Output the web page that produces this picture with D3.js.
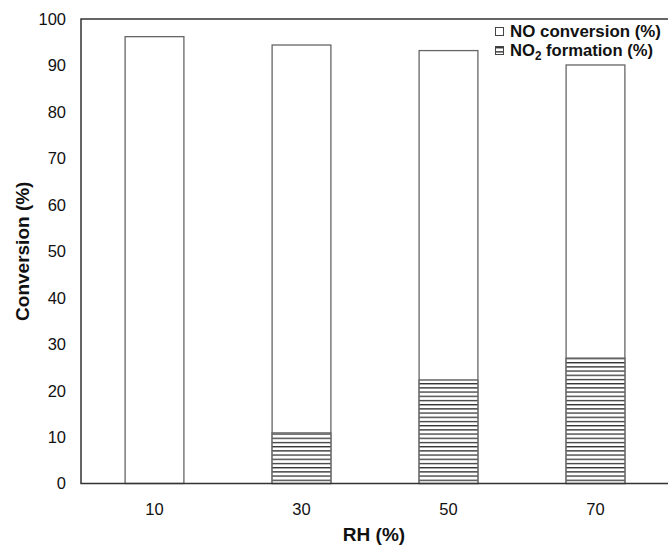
<!DOCTYPE html>
<html>
<head>
    <script src="https://cdn.jsdelivr.net/npm/d3@7"></script>
    <style>
        body { margin: 0; background: #fff; }
        text { font-family: "Liberation Sans", Arial, sans-serif; fill: #111; }
    </style>
</head>
<body>
<script>
    // values
    const rh = ["10", "30", "50", "70"];
    const noConversion = [96.2, 94.4, 93.2, 90.1];
    const no2Formation = [0, 10.9, 22.3, 27.0];
    const yTicks = [0, 10, 20, 30, 40, 50, 60, 70, 80, 90, 100];

    const width = 668, height = 547;
    const plotLeft = 81, plotTop = 19, plotBottom = 483.5;

    const svg = d3.select('body').append('svg')
        .attr('width', width)
        .attr('height', height);

    // horizontal line hatch for NO2
    svg.append('defs').append('pattern')
        .attr('id', 'hatch')
        .attr('patternUnits', 'userSpaceOnUse')
        .attr('width', 8).attr('height', 4.2)
        .call(p => {
            p.append('rect').attr('width', 8).attr('height', 4.2).attr('fill', '#fff');
            p.append('line').attr('x1', 0).attr('x2', 8).attr('y1', 1.5).attr('y2', 1.5)
                .attr('stroke', '#333').attr('stroke-width', 1.3);
        });

    const x = d3.scaleBand()
        .domain(rh)
        .range([plotLeft, plotLeft + 588])
        .paddingInner(0.6)
        .paddingOuter(0.3);

    const y = d3.scaleLinear()
        .domain([0, 100])
        .range([plotBottom, plotTop]);

    // NO conversion bars
    svg.selectAll('.no')
        .data(rh)
        .join('rect')
        .attr('class', 'no')
        .attr('x', d => x(d))
        .attr('width', x.bandwidth())
        .attr('y', (d, i) => y(noConversion[i]))
        .attr('height', (d, i) => y(0) - y(noConversion[i]))
        .attr('fill', '#fff')
        .attr('stroke', '#666')
        .attr('stroke-width', 1.3);

    // NO2 formation bars
    svg.selectAll('.no2')
        .data(rh.filter((d, i) => no2Formation[i] > 0))
        .join('rect')
        .attr('class', 'no2')
        .attr('x', d => x(d))
        .attr('width', x.bandwidth())
        .attr('y', d => y(no2Formation[rh.indexOf(d)]))
        .attr('height', d => y(0) - y(no2Formation[rh.indexOf(d)]))
        .attr('fill', 'url(#hatch)')
        .attr('stroke', '#666')
        .attr('stroke-width', 1.3);

    // frame (right side runs off the picture)
    svg.append('path')
        .attr('d', `M${width + 5},${plotTop}H${plotLeft}V${plotBottom}H${width + 5}`)
        .attr('fill', 'none')
        .attr('stroke', '#333')
        .attr('stroke-width', 1.5);

    // y tick labels
    svg.selectAll('.ytick')
        .data(yTicks)
        .join('text')
        .attr('class', 'ytick')
        .attr('x', 66)
        .attr('y', d => y(d))
        .attr('dy', '0.36em')
        .attr('text-anchor', 'end')
        .attr('font-size', 16.5)
        .text(d => d);

    // x tick labels
    svg.selectAll('.xtick')
        .data(rh)
        .join('text')
        .attr('class', 'xtick')
        .attr('x', d => x(d) + x.bandwidth() / 2)
        .attr('y', 515)
        .attr('text-anchor', 'middle')
        .attr('font-size', 16.5)
        .text(d => d);

    svg.append('text')
        .attr('x', 374)
        .attr('y', 541)
        .attr('text-anchor', 'middle')
        .attr('font-size', 19)
        .attr('font-weight', 'bold')
        .text('RH (%)');

    svg.append('text')
        .attr('transform', `translate(29,${(plotTop + plotBottom) / 2}) rotate(-90)`)
        .attr('text-anchor', 'middle')
        .attr('font-size', 19)
        .attr('font-weight', 'bold')
        .text('Conversion (%)');

    // legend
    const lg = svg.append('g');
    lg.append('rect')
        .attr('x', 495.5).attr('y', 27.5).attr('width', 8).attr('height', 8)
        .attr('fill', '#fff').attr('stroke', '#444');
    lg.append('text')
        .attr('x', 510).attr('y', 37)
        .attr('font-size', 17).attr('font-weight', 'bold')
        .attr('textLength', 151).attr('lengthAdjust', 'spacingAndGlyphs')
        .text('NO conversion (%)');
    lg.append('rect')
        .attr('x', 495.5).attr('y', 46.5).attr('width', 8).attr('height', 8)
        .attr('fill', 'url(#hatch)').attr('stroke', '#444');
    const t2 = lg.append('text')
        .attr('x', 510).attr('y', 56)
        .attr('font-size', 17).attr('font-weight', 'bold')
        .attr('textLength', 143).attr('lengthAdjust', 'spacingAndGlyphs');
    t2.append('tspan').text('NO');
    t2.append('tspan').attr('font-size', 12).attr('dy', 4).text('2');
    t2.append('tspan').attr('dy', -4).text(' formation (%)');
</script>
</body>
</html>
